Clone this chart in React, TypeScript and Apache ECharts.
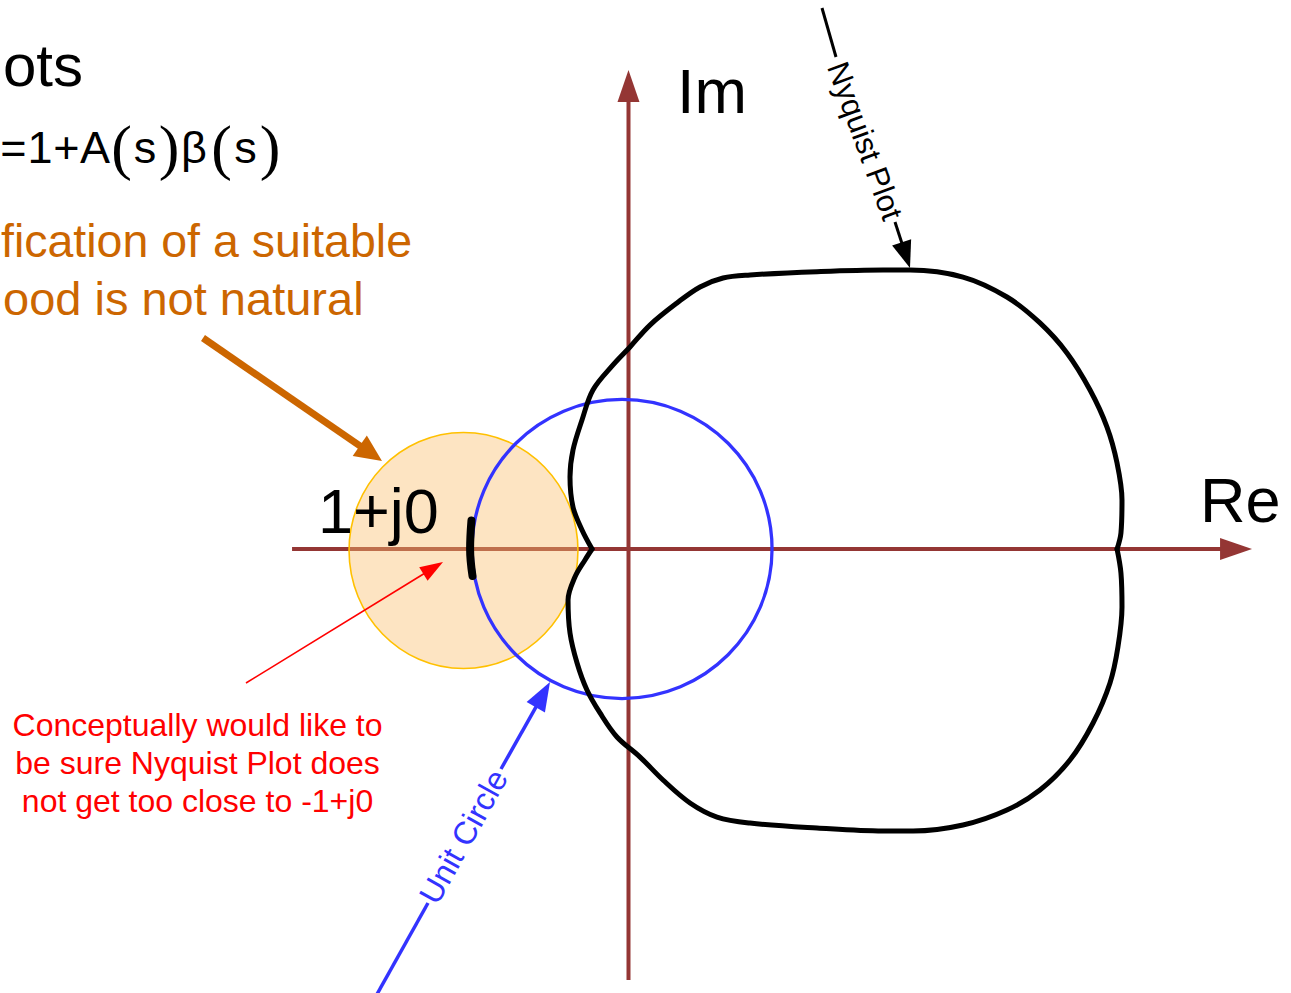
import React, { useEffect, useRef } from "react";
import * as echarts from "echarts";

// ---- complex plane window (1 unit = unit-circle radius) ----
const reRange = [-4.19, 4.41667];
const imRange = [-2.96, 3.66];

// Re / Im axes as arrows: [x1, y1, x2, y2]
const axisArrows = [
  [-2.243, 0, 4.157, 0],
  [0, -2.873, 0, 3.193],
];

// circles: [centerRe, centerIm, radiusRe, radiusIm]
const criticalDisk = [[-1.1, -0.01, 0.763, 0.787]];
const unitCircle = [[-0.043, 0, 1.0, 0.997]];

// Nyquist contour, upper half (left cusp -> right cusp)
const nyquistUpper = [
  [-0.243, 0], [-0.31, 0.127], [-0.37, 0.28], [-0.39, 0.48], [-0.37, 0.66],
  [-0.31, 0.86], [-0.237, 1.06], [-0.103, 1.227], [0.01, 1.347], [0.143, 1.493],
  [0.323, 1.64], [0.477, 1.747], [0.63, 1.807], [0.81, 1.827], [1.257, 1.849],
  [1.697, 1.86], [1.877, 1.86], [2.23, 1.813], [2.523, 1.68], [2.743, 1.507],
  [2.923, 1.307], [3.077, 1.06], [3.19, 0.813], [3.257, 0.573], [3.29, 0.327],
  [3.283, 0.107], [3.257, 0],
];
// Nyquist contour, lower half (right cusp -> left cusp)
const nyquistLower = [
  [3.257, 0], [3.283, -0.16], [3.29, -0.387], [3.263, -0.653], [3.21, -0.893],
  [3.097, -1.16], [2.943, -1.407], [2.743, -1.607], [2.523, -1.74], [2.23, -1.84],
  [1.897, -1.88], [1.697, -1.88], [1.257, -1.86], [0.81, -1.827], [0.59, -1.787],
  [0.41, -1.693], [0.23, -1.54], [0.077, -1.387], [-0.077, -1.253], [-0.19, -1.093],
  [-0.277, -0.94], [-0.343, -0.76], [-0.39, -0.56], [-0.403, -0.34], [-0.357, -0.187],
  [-0.29, -0.073], [-0.243, 0],
];
// the -1+j0 marker
const criticalMark = [[-1.047, 0.19], [-1.056, 0], [-1.04, -0.18]];

// ---- texts ----
const titleText = "ots";
const formulaGlyphs = ["=", "1", "+", "A", "(", "s", ")", "β", "(", "s", ")"];
const noteLines = ["fication of a suitable", "ood is not natural"];
const redNote = ["Conceptually would like to", "be sure Nyquist Plot does", "not get too close to -1+j0"];
const imLabel = "Im";
const reLabel = "Re";
const pointLabel = "1+j0";
const nyquistLabel = "Nyquist Plot";
const unitLabel = "Unit Circle";

const SANS = "'Liberation Sans', Arial, Helvetica, sans-serif";
const SERIF = "'Liberation Serif', 'Times New Roman', serif";

function arrowParts(p1: number[], p2: number[], color: string, width: number, headLen: number, headHalf: number, z?: number) {
  const dx = p2[0] - p1[0];
  const dy = p2[1] - p1[1];
  const L = Math.hypot(dx, dy) || 1;
  const ux = dx / L, uy = dy / L;
  const bx = p2[0] - ux * headLen, by = p2[1] - uy * headLen;
  const nx = -uy, ny = ux;
  const zz = z == null ? {} : { z };
  return [
    {
      type: "line",
      ...zz,
      shape: { x1: p1[0], y1: p1[1], x2: bx + ux * 2, y2: by + uy * 2 },
      style: { stroke: color, lineWidth: width, fill: null },
    },
    {
      type: "polygon",
      ...zz,
      shape: {
        points: [
          [p2[0], p2[1]],
          [bx + nx * headHalf, by + ny * headHalf],
          [bx - nx * headHalf, by - ny * headHalf],
        ],
      },
      style: { fill: color, stroke: null },
    },
  ];
}

function segment(p1: number[], p2: number[], color: string, width: number, z: number) {
  return {
    type: "line",
    z,
    shape: { x1: p1[0], y1: p1[1], x2: p2[0], y2: p2[1] },
    style: { stroke: color, lineWidth: width },
  };
}

export default function App() {
  const ref = useRef<HTMLDivElement>(null);

  useEffect(() => {
    document.body.style.margin = "0";
    if (!ref.current) return;
    const chart = echarts.init(ref.current, null, { renderer: "svg" });

    // formula as rich text with per-glyph centred blocks
    const centers = [13.5, 40, 66.5, 95, 121.5, 145, 169, 194, 221.5, 245.5, 270];
    const rich: any = {};
    let left = 0;
    const formulaLeft = left;
    let formulaText = "";
    formulaGlyphs.forEach((g, i) => {
      const w = 2 * (centers[i] - left);
      left += w;
      const isParen = g === "(" || g === ")";
      rich["g" + i] = {
        width: w,
        align: "center",
        fontFamily: isParen ? SERIF : SANS,
        fontSize: isParen ? 62 : 45,
        fill: "#000",
      };
      formulaText += "{g" + i + "|" + g + "}";
    });

    const Z = 50;
    const graphic: any[] = [
      // title fragments
      { type: "text", z: Z, x: 3, y: 65, style: { text: titleText, fontFamily: SANS, fontSize: 60, fill: "#000", align: "left", verticalAlign: "middle" } },
      { type: "text", z: Z, x: formulaLeft, y: 147, style: { text: formulaText, rich, align: "left", verticalAlign: "middle" } },
      { type: "text", z: Z, x: 1, y: 240.5, style: { text: noteLines[0], fontFamily: SANS, fontSize: 46.5, fill: "#CC6600", align: "left", verticalAlign: "middle" } },
      { type: "text", z: Z, x: 3, y: 298.5, style: { text: noteLines[1], fontFamily: SANS, fontSize: 47, fill: "#CC6600", align: "left", verticalAlign: "middle" } },
      // axis labels
      { type: "text", z: Z, x: 677, y: 91, style: { text: imLabel, fontFamily: SANS, fontSize: 63, fill: "#000", align: "left", verticalAlign: "middle" } },
      { type: "text", z: Z, x: 1200, y: 500, style: { text: reLabel, fontFamily: SANS, fontSize: 63, fill: "#000", align: "left", verticalAlign: "middle" } },
      { type: "text", z: Z, x: 318, y: 511, style: { text: pointLabel, fontFamily: SANS, fontSize: 63, fill: "#000", align: "left", verticalAlign: "middle" } },
      // red note
      { type: "text", z: Z, x: 197.5, y: 763, style: { text: redNote.join("\n"), fontFamily: SANS, fontSize: 32, lineHeight: 38, fill: "#FF0000", align: "center", verticalAlign: "middle" } },
      // pointer labels
      { type: "text", z: Z, x: 865, y: 141, rotation: -1.2217, style: { text: nyquistLabel, fontFamily: SANS, fontSize: 31, fill: "#000", align: "center", verticalAlign: "middle" } },
      { type: "text", z: Z, x: 463.5, y: 836.5, rotation: 1.063, style: { text: unitLabel, fontFamily: SANS, fontSize: 32, fill: "#3333FF", align: "center", verticalAlign: "middle" } },
      // pointers
      segment([822, 8], [836, 57], "#000", 3, Z),
      ...arrowParts([895, 222], [910, 268], "#000", 3, 27, 10, Z),
      segment([376, 996], [428, 903], "#3333FF", 3.5, Z),
      ...arrowParts([501, 769], [550, 682], "#3333FF", 3.5, 29, 10.5, Z),
      ...arrowParts([203, 338], [382, 461], "#CC6600", 7, 27, 12.5, Z),
      ...arrowParts([246, 683], [443, 562], "#FF0000", 1.6, 23, 8, Z),
    ];

    const option: any = {
      animation: false,
      backgroundColor: "#ffffff",
      grid: { left: 0, right: 0, top: 0, bottom: 0, containLabel: false },
      xAxis: { type: "value", min: reRange[0], max: reRange[1], show: false },
      yAxis: { type: "value", min: imRange[0], max: imRange[1], show: false },
      graphic,
      series: [
        {
          type: "custom",
          name: "axes",
          data: axisArrows,
          encode: { x: [0, 2], y: [1, 3] },
          renderItem: (_p: any, api: any) => {
            const a = api.coord([api.value(0), api.value(1)]);
            const b = api.coord([api.value(2), api.value(3)]);
            return { type: "group", children: arrowParts(a, b, "#943634", 4, 32, 11) };
          },
          z: 1,
        },
        {
          type: "custom",
          name: "critical region",
          data: criticalDisk,
          encode: { x: 0, y: 1 },
          renderItem: (_p: any, api: any) => {
            const c = api.coord([api.value(0), api.value(1)]);
            const s = api.size([api.value(2), api.value(3)]);
            return {
              type: "ellipse",
              shape: { cx: c[0], cy: c[1], rx: s[0], ry: s[1] },
              style: { fill: "rgba(250,190,110,0.42)", stroke: "#FFC000", lineWidth: 1.6 },
            };
          },
          z: 2,
        },
        {
          type: "custom",
          name: "unit circle",
          data: unitCircle,
          encode: { x: 0, y: 1 },
          renderItem: (_p: any, api: any) => {
            const c = api.coord([api.value(0), api.value(1)]);
            const s = api.size([api.value(2), api.value(3)]);
            return {
              type: "ellipse",
              shape: { cx: c[0], cy: c[1], rx: s[0], ry: s[1] },
              style: { fill: null, stroke: "#3333FF", lineWidth: 3.3 },
            };
          },
          z: 3,
        },
        {
          type: "line",
          name: "Nyquist upper",
          data: nyquistUpper,
          showSymbol: false,
          symbol: "none",
          smooth: 0.35,
          lineStyle: { color: "#000", width: 5, cap: "round", join: "round" },
          z: 4,
        },
        {
          type: "line",
          name: "Nyquist lower",
          data: nyquistLower,
          showSymbol: false,
          symbol: "none",
          smooth: 0.35,
          lineStyle: { color: "#000", width: 5, cap: "round", join: "round" },
          z: 4,
        },
        {
          type: "line",
          name: "-1+j0",
          data: criticalMark,
          showSymbol: false,
          symbol: "none",
          smooth: 0.4,
          lineStyle: { color: "#000", width: 8, cap: "round" },
          z: 5,
        },
      ],
    };
    chart.setOption(option);
    return () => chart.dispose();
  }, []);

  return <div ref={ref} style={{ width: 1291, height: 993 }} />;
}
